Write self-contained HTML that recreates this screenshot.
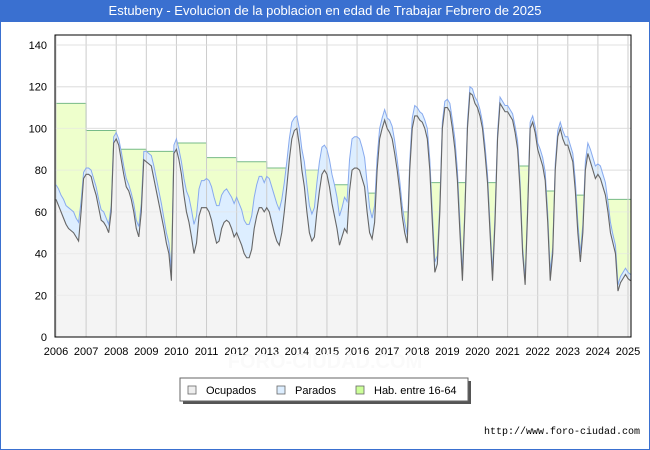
<!DOCTYPE html>
<html><head><meta charset="utf-8"><style>
html,body{margin:0;padding:0;background:#fff;}
#wrap{position:relative;width:650px;height:450px;box-sizing:border-box;border:1px solid #3a70d0;border-top:none;font-family:"Liberation Sans","DejaVu Sans",sans-serif;}
#title{position:absolute;left:0;top:0;width:648px;height:22px;background:#3a70d0;color:#fff;font-size:13px;line-height:22px;text-align:center;}
#url{position:absolute;right:9px;top:427px;font-size:10px;font-family:"Liberation Mono","DejaVu Sans Mono",monospace;color:#000;}
</style></head><body>
<div id="wrap">
<div id="title">Estubeny - Evolucion de la poblacion en edad de Trabajar Febrero de 2025</div>
<svg id="chart" width="650" height="450" style="position:absolute;left:-1px;top:0"></svg>
<div id="url">http://www.foro-ciudad.com</div>
</div>
<script>
const years = [2006,2007,2008,2009,2010,2011,2012,2013,2014,2015,2016,2017,2018,2019,2020,2021,2022,2023,2024,2025];
const habByYear = [112,99,90,89,93,86,84,81,80,73,69,60,74,74,74,82,70,68,66,66];
const ocupados = [
66,63,60,57,54,52,51,50,48,46,60,76,
78,78,77,72,68,62,56,55,53,50,60,93,
95,92,85,78,72,70,66,60,52,48,60,85,
84,83,82,76,70,64,58,52,45,40,27,88,
90,85,78,68,60,55,48,40,45,58,62,62,
62,60,56,50,45,46,52,55,56,55,52,48,
50,47,44,40,38,38,42,52,58,62,62,60,
62,60,55,50,46,44,50,60,72,85,95,99,
100,92,80,72,60,50,46,48,60,70,78,80,
78,72,64,58,52,44,48,52,50,70,80,81,
81,80,76,72,60,50,47,55,80,95,100,104,
100,98,95,88,80,70,58,50,45,80,100,106,
106,104,103,100,95,80,55,31,35,60,100,110,
110,108,100,90,75,50,27,60,100,117,116,112,
110,106,100,88,74,50,27,55,95,112,110,108,
108,106,104,98,90,70,40,25,60,100,103,98,
90,86,82,75,55,27,40,80,96,100,95,92,
92,88,84,70,50,36,50,80,88,84,80,76,
78,76,72,68,60,50,45,40,22,26,28,30,
28,27];
const parados = [
7,8,8,9,9,10,10,10,9,9,5,3,
3,3,3,4,4,4,5,5,4,4,3,3,
3,3,4,4,4,3,3,4,4,5,4,4,
5,5,5,6,6,6,6,5,5,5,5,4,
5,5,6,8,10,12,13,14,13,13,13,13,
14,15,16,17,18,17,16,15,15,14,15,16,
17,17,17,16,16,16,16,15,15,15,15,14,
15,16,17,18,18,17,16,14,12,10,8,6,
6,8,10,12,13,13,13,14,14,14,13,12,
12,13,14,15,15,14,14,15,15,15,15,15,
15,15,15,14,14,12,10,8,6,5,5,5,
5,6,6,6,5,5,5,5,4,4,5,5,
4,4,4,4,5,5,5,5,4,4,3,3,
4,4,4,5,5,5,4,3,3,3,3,3,
3,3,3,4,4,4,4,4,3,3,3,3,
3,3,3,3,4,4,3,3,3,3,3,3,
3,4,4,4,4,4,3,3,3,3,4,4,
4,4,4,5,5,4,4,4,5,6,6,6,
5,6,6,6,5,5,4,4,3,3,3,3,
3,3];
const yTicks = [0,20,40,60,80,100,120,140];

const NS='http://www.w3.org/2000/svg';
const svg=document.getElementById('chart');
const X0=56,X1=628,Y0=337,Y1=45,L=55,T=35,R=631;
function xScale(i){return X0+i*(X1-X0)/228;}
function yScale(v){return Y0-(v/140)*(Y0-Y1);}
function mk(tag,attrs){const e=document.createElementNS(NS,tag);for(const k in attrs)e.setAttribute(k,attrs[k]);svg.appendChild(e);return e;}

let e=mk('rect',{x:L,y:T,width:R-L,height:Y0-T,fill:'#fff'});



const n=ocupados.length;
const hab=[];for(let i=0;i<n;i++)hab.push(habByYear[Math.floor(i/12)]);
const tot=[];for(let i=0;i<n;i++)tot.push(ocupados[i]+parados[i]);

function areaPath(vals){let d='M'+xScale(0)+','+yScale(0);for(let i=0;i<n;i++)d+=' L'+xScale(i)+','+yScale(vals[i]);d+=' L'+xScale(n-1)+','+yScale(0)+' Z';return d;}
function linePath(vals){let d='';for(let i=0;i<n;i++)d+=(i?' L':'M')+xScale(i)+','+yScale(vals[i]);return d;}
function stepPath(vals){let d='M'+xScale(0)+','+yScale(vals[0]);for(let i=1;i<n;i++){if(vals[i]!==vals[i-1])d+=' L'+xScale(i)+','+yScale(vals[i-1]);d+=' L'+xScale(i)+','+yScale(vals[i]);}return d;}
function stepArea(vals){return stepPath(vals)+' L'+xScale(n-1)+','+yScale(0)+' L'+xScale(0)+','+yScale(0)+' Z';}

yTicks.forEach(v=>{
 const g=mk('line',{x1:L,x2:R,y1:yScale(v),y2:yScale(v),stroke:'#dcdcdc','stroke-width':1});
 
 
 const t=mk('text',{x:47,y:yScale(v)+4,'text-anchor':'end','font-size':'11','font-family':'Liberation Sans, sans-serif',fill:'#000'});
 t.textContent=v;
 
 
});

e=mk('path',{d:stepArea(hab),fill:'#eeffcc',stroke:'none'});


e=mk('path',{d:stepPath(hab),fill:'none',stroke:'#77bb88','stroke-width':1});


e=mk('path',{d:areaPath(tot),fill:'#ddeeff',stroke:'none'});


e=mk('path',{d:areaPath(ocupados),fill:'#f4f4f4',stroke:'none'});



years.forEach((yr,k)=>{
 const x=xScale(k*12);
 const g=mk('line',{x1:x,x2:x,y1:T,y2:Y0,stroke:'#cccccc','stroke-width':1});
 
 
 const t=mk('text',{x:x,y:355,'text-anchor':'middle','font-size':'11','font-family':'Liberation Sans, sans-serif',fill:'#000'});
 t.textContent=yr;
 
 
});
yTicks.forEach(v=>{
 const g=mk('line',{x1:L,x2:R,y1:yScale(v),y2:yScale(v),stroke:'#e4e4e4','stroke-width':1,'stroke-opacity':0.6});
 
 
});

e=mk('path',{d:linePath(tot),fill:'none',stroke:'#88aaee','stroke-width':1});


e=mk('path',{d:linePath(ocupados),fill:'none',stroke:'#666','stroke-width':1.1});



e=mk('rect',{x:L,y:T,width:R-L,height:Y0-T,fill:'none',stroke:'#000','stroke-width':1});



e=mk('text',{x:325,y:368,'text-anchor':'middle','font-size':'20','font-weight':'bold',fill:'#fafafa','font-family':'Liberation Sans, sans-serif'});
e.textContent='FORO-CIUDAD.COM';



// legend
e=mk('rect',{x:183,y:381,width:288,height:23,fill:'#555'});


e=mk('rect',{x:180,y:378,width:288,height:23,fill:'#fff',stroke:'#666','stroke-width':1});


const legNames=['Ocupados','Parados','Hab. entre 16-64'];
const legColors=['#eeeeee','#ddeeff','#ccff99'];
const legX=[188,277,356];
legNames.forEach((nm,k)=>{
 const s=mk('rect',{x:legX[k],y:386,width:8,height:8,fill:legColors[k],stroke:'#666','stroke-width':0.8});
 
 
 const t=mk('text',{x:legX[k]+18,y:394,'font-size':'11','font-family':'Liberation Sans, sans-serif',fill:'#000'});
 t.textContent=nm;
 
 
});
</script>
</body></html>
